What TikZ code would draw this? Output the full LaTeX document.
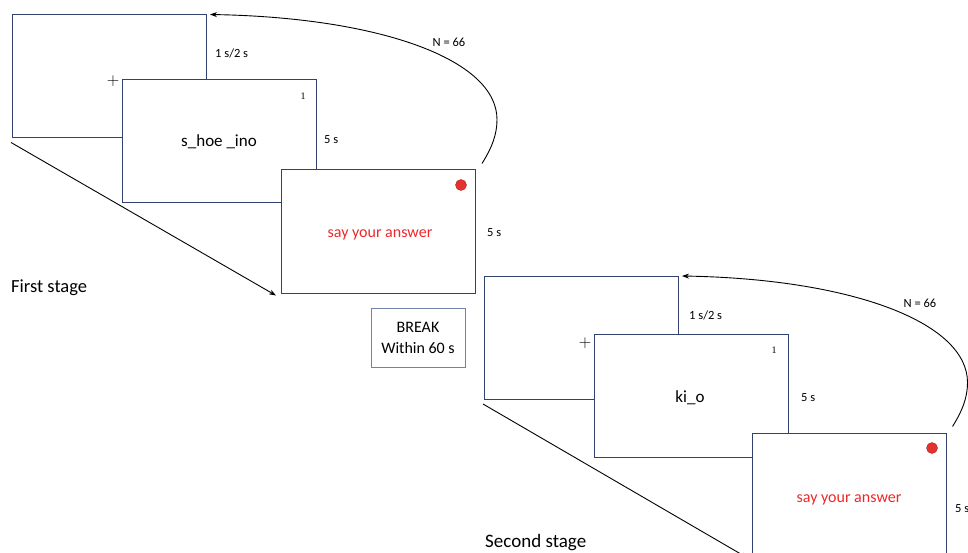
\documentclass[tikz,border=0pt]{standalone}
\usepackage{fontspec}
\setmainfont{Carlito}
\newfontfamily\numfont{Liberation Serif}
\usetikzlibrary{arrows.meta,calc}
\definecolor{framecol}{RGB}{50,65,110}
\definecolor{breakcol}{RGB}{115,130,170}
\definecolor{ansred}{RGB}{238,40,40}
\definecolor{dotred}{RGB}{230,50,45}
\tikzset{
  screen/.style={draw=framecol, fill=white, line width=1pt, minimum width=194pt, minimum height=123pt, inner sep=0pt},
  word/.style={font=\fontsize{17}{20}\selectfont, text=black},
  answer/.style={font=\fontsize{16}{19}\selectfont, text=ansred},
  small/.style={font=\fontsize{12.5}{15}\selectfont, text=black, inner sep=0pt},
  num/.style={font=\numfont\fontsize{10}{12}\selectfont, inner sep=0pt},
  stagelbl/.style={font=\fontsize{18.5}{22}\selectfont, inner sep=0pt, anchor=west},
  reddot/.style={circle, fill=dotred, draw=dotred!70!black, line width=0.4pt, minimum size=11pt, inner sep=0pt},
  conn/.style={draw=black, line width=0.9pt, -{Stealth[length=7pt,width=5pt]}},
  fixcross/.style={font=\fontsize{18}{18}\selectfont, inner sep=0pt, text=black},
  breakbox/.style={draw=breakcol, line width=0.9pt, fill=white, minimum width=94pt, minimum height=59pt, align=center, font=\fontsize{16}{21}\selectfont, inner sep=0pt}
}
\begin{document}
\begin{tikzpicture}[x=1pt,y=-1pt]
\useasboundingbox (0,0) rectangle (968,553);
% ---------- First stage ----------
\node[screen] (A1) at (109.5,76.5) {};
\node[fixcross] (p1) at (113,81) {$+$};
\node[screen] (B1) at (219,141.5) {};
\node[word] (w1) at (219,142) {s\_hoe \_ino};
\node[num] (n1) at (303,96) {1};
\node[screen] (C1) at (378.5,231.5) {};
\node[answer] (a1) at (380,234.5) {say your answer};
\node[reddot] (d1) at (461,185) {};
\node[small, anchor=west] (t1a) at (215,53.5) {1 s/2 s};
\node[small, anchor=west] (t1b) at (324,139.5) {5 s};
\node[small, anchor=west] (t1c) at (487,232.5) {5 s};
\node[small] (N1) at (449,42.5) {N = 66};
\node[stagelbl] (S1) at (11,288) {First stage};
\coordinate (s1) at ($(C1.north east)+(6,-6)$);
\draw[conn] (s1) .. controls ($(s1)+(10,-16)$) and ($(s1)+(15,-29)$) .. ($(s1)+(15,-44)$)
  .. controls ($(s1)+(15,-104)$) and ($(A1.north east)+(173,3)$) .. ($(A1.north east)+(3,0)$);
\draw[conn] ($(A1.south west)+(-1,4)$) -- ($(C1.south west)+(-5,2)$);
% ---------- Break ----------
\node[breakbox] (BR) at (418,337.5) {BREAK\\Within 60 s};
% ---------- Second stage ----------
\node[screen] (A2) at (581.5,338) {};
\node[fixcross] (p2) at (585,343) {$+$};
\node[screen] (B2) at (691,395.5) {};
\node[word] (w2) at (690,398) {ki\_o};
\node[num] (n2) at (774,350) {1};
\node[screen] (C2) at (849,494.5) {};
\node[answer] (a2) at (849,499.5) {say your answer};
\node[reddot] (d2) at (932,448) {};
\node[small, anchor=west] (t2a) at (689,315.5) {1 s/2 s};
\node[small, anchor=west] (t2b) at (801,397.5) {5 s};
\node[small, anchor=west] (t2c) at (955,508.5) {5 s};
\node[small] (N2) at (920,303.5) {N = 66};
\node[stagelbl, font=\fontsize{19}{22}\selectfont] (S2) at (485,543) {Second stage};
\coordinate (s2) at ($(C2.north east)+(6,-6)$);
\draw[conn] (s2) .. controls ($(s2)+(10,-16)$) and ($(s2)+(15,-29)$) .. ($(s2)+(15,-44)$)
  .. controls ($(s2)+(15,-104)$) and ($(A2.north east)+(173,3)$) .. ($(A2.north east)+(3,0)$);
\draw[conn] ($(A2.south west)+(-1,4)$) -- ($(C2.south west)+(-3,2)$);
\end{tikzpicture}
\end{document}
